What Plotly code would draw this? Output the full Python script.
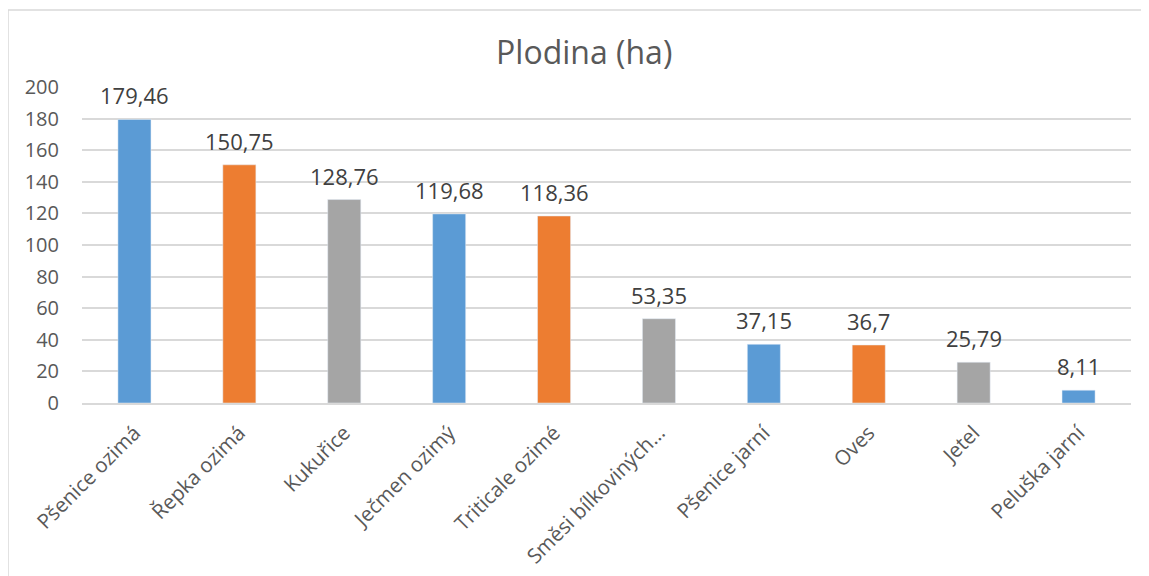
import plotly.graph_objects as go

categories = ["Pšenice ozimá", "Řepka ozimá", "Kukuřice", "Ječmen ozimý", "Triticale ozimé",
              "Směsi bílkoviných…", "Pšenice jarní", "Oves", "Jetel", "Peluška jarní"]
values = [179.46, 150.75, 128.76, 119.68, 118.36, 53.35, 37.15, 36.7, 25.79, 8.11]
palette = ["#5B9BD5", "#ED7D31", "#A5A5A5"]
y_ticks = [0, 20, 40, 60, 80, 100, 120, 140, 160, 180, 200]

colors = [palette[i % 3] for i in range(len(values))]
labels = [("%g" % v).replace(".", ",") for v in values]

# page body has an 8px offset; figure coordinates are relative to it
OFF = 8
W, H = 1149 - OFF, 576 - OFF
L, R, T, B = 82 - OFF, 18, 87 - OFF, 173
pw, ph = W - L - R, H - T - B

def px(x):
    return (x - OFF - L) / pw

def py(y):
    return (H - B - (y - OFF)) / ph

fig = go.Figure(go.Bar(
    x=categories, y=values, marker_color=colors, width=0.315,
))

for c, v, t in zip(categories, values, labels):
    fig.add_annotation(x=c, y=v, text=t, showarrow=False, yanchor="middle", yshift=24,
                       font=dict(size=22, color="#404040"))

fig.update_layout(
    width=W, height=H,
    margin=dict(l=L, r=R, t=T, b=B, autoexpand=False),
    paper_bgcolor="white", plot_bgcolor="white",
    font=dict(family="Open Sans", color="#595959"),
    title=dict(text="Plodina (ha)", x=0.505, xref="container", xanchor="center",
               y=1 - (53 - OFF) / H, yanchor="middle",
               font=dict(size=32, color="#595959")),
    showlegend=False,
    xaxis=dict(tickangle=-45, tickfont=dict(size=20.5, color="#595959"), showgrid=False,
               showline=True, linecolor="#D9D9D9", linewidth=1.5, ticks="",
               ticklabelstandoff=8, automargin=False),
    yaxis=dict(range=[0, 200], tickvals=y_ticks, tickfont=dict(size=20, color="#595959"),
               showgrid=True, gridcolor="#D9D9D9", gridwidth=1.5, zeroline=False,
               showline=False, ticks="", ticklabelstandoff=22, automargin=False),
    shapes=[
        dict(type="line", xref="paper", yref="paper", x0=px(8), x1=px(1149 + 10), y0=py(10), y1=py(10),
             line=dict(color="#D9D9D9", width=1.5)),
        dict(type="line", xref="paper", yref="paper", x0=px(8), x1=px(8), y0=py(10), y1=py(576 + 10),
             line=dict(color="#D9D9D9", width=1.5)),
    ],
)

fig.write_html("out.html")
